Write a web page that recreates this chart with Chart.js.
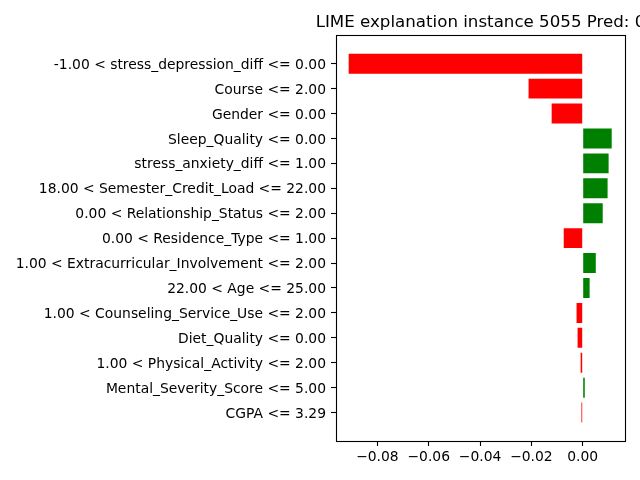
<!DOCTYPE html>
<html>
<head>
<meta charset="utf-8">
<script src="https://cdn.jsdelivr.net/npm/chart.js@4"></script>
<style>
  html, body { margin: 0; padding: 0; background: #fff; }
  #wrap { width: 640px; height: 480px; }
</style>
</head>
<body>
<div id="wrap"><canvas id="lime" width="640" height="480"></canvas></div>
<script>
// features, top to bottom
const labels = [
    "-1.00 < stress_depression_diff <= 0.00",
    "Course <= 2.00",
    "Gender <= 0.00",
    "Sleep_Quality <= 0.00",
    "stress_anxiety_diff <= 1.00",
    "18.00 < Semester_Credit_Load <= 22.00",
    "0.00 < Relationship_Status <= 2.00",
    "0.00 < Residence_Type <= 1.00",
    "1.00 < Extracurricular_Involvement <= 2.00",
    "22.00 < Age <= 25.00",
    "1.00 < Counseling_Service_Use <= 2.00",
    "Diet_Quality <= 0.00",
    "1.00 < Physical_Activity <= 2.00",
    "Mental_Severity_Score <= 5.00",
    "CGPA <= 3.29"
];
// LIME weights
const weights = [-0.0912, -0.0211, -0.0121, 0.0113, 0.0101, 0.0097, 0.0078,
                 -0.0074, 0.0051, 0.0027, -0.0024, -0.0020, -0.0008, 0.0008, -0.0005];
const xTicks = [-0.08, -0.06, -0.04, -0.02, 0.00];
const title = "LIME explanation instance 5055 Pred: 0";

const FONT = "'DejaVu Sans', sans-serif";

// box around the plot area + the title, centred on the axes like matplotlib
// (the built-in title squeezes the text to fit, this one is allowed to run off the edge)
const frame = {
    id: "frame",
    afterDraw(chart) {
        const a = chart.chartArea, ctx = chart.ctx;
        const l = Math.round(a.left) + 0.5, t = Math.round(a.top) + 0.5;
        const r = Math.round(a.right) + 0.5, b = Math.round(a.bottom) + 0.5;
        ctx.save();
        ctx.strokeStyle = "#000";
        ctx.lineWidth = 1.1;
        ctx.strokeRect(l, t, r - l, b - t);

        ctx.fillStyle = "#000";
        ctx.font = "16.67px " + FONT;
        ctx.textAlign = "center";
        ctx.textBaseline = "alphabetic";
        ctx.fillText(title, (a.left + a.right) / 2, 26.7);
        ctx.restore();
    }
};

const tickGrid = {
    display: true, drawOnChartArea: false, drawTicks: true, offset: false,
    tickLength: 5, tickColor: "#000", tickWidth: 1.1
};

new Chart(document.getElementById("lime"), {
    type: "bar",
    data: {
        datasets: [{
            data: weights.map((v, i) => ({ x: v, y: i })),
            backgroundColor: weights.map(v => v > 0 ? "#008000" : "#ff0000"),
            barPercentage: 0.8,
            categoryPercentage: 1.0
        }]
    },
    options: {
        responsive: false,
        devicePixelRatio: 1,
        animation: false,
        indexAxis: "y",
        layout: { padding: { left: 0, right: 15, top: 35.3, bottom: 0 } },
        plugins: {
            legend: { display: false },
            tooltip: { enabled: false },
            title: { display: false }
        },
        scales: {
            x: {
                type: "linear",
                min: -0.09614,
                max: 0.01648,
                afterBuildTicks: s => { s.ticks = xTicks.map(v => ({ value: v })); },
                afterFit: s => { s.height = 39; },
                ticks: {
                    callback: v => v.toFixed(2).replace("-", "\u2212"),
                    color: "#000",
                    font: { family: FONT, size: 13.89 },
                    padding: 3,
                    maxRotation: 0,
                    autoSkip: false
                },
                grid: tickGrid,
                border: { display: false }
            },
            y: {
                type: "linear",
                reverse: true,
                offset: false,
                min: -1.14,
                max: 15.14,
                afterBuildTicks: s => { s.ticks = labels.map((_, i) => ({ value: i })); },
                afterFit: s => { s.width = 336; },
                ticks: {
                    callback: v => labels[v],
                    color: "#000",
                    font: { family: FONT, size: 13.89 },
                    padding: 5,
                    labelOffset: 1.5,
                    autoSkip: false
                },
                grid: tickGrid,
                border: { display: false }
            }
        }
    },
    plugins: [frame]
});
</script>
</body>
</html>
